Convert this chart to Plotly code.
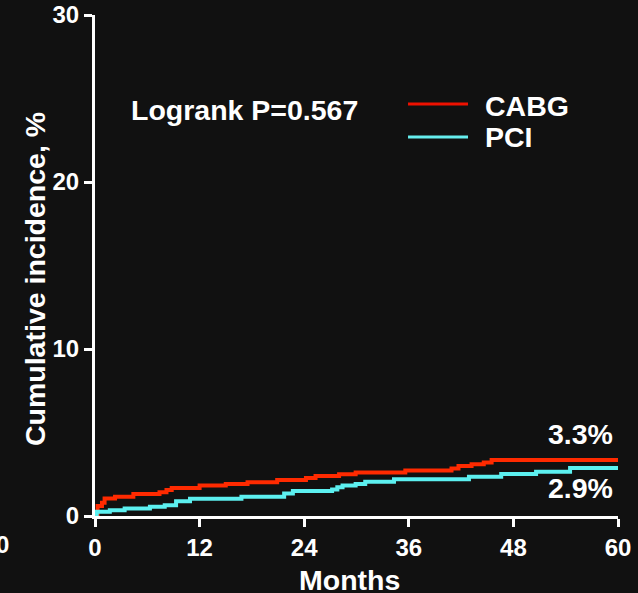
import plotly.graph_objects as go

# Data (months, cumulative incidence %)
cabg_t = [0, 0.3, 0.8, 1.1, 2.3, 4.4, 7.4, 8.2, 8.8, 12, 15, 17.5, 20.9, 24.2, 25.3, 28, 29.9,
          35.6, 40.9, 41.7, 43.2, 44.6, 45.5, 60]
cabg_v = [0, 0.6, 0.8, 1.05, 1.15, 1.32, 1.42, 1.55, 1.68, 1.82, 1.92, 2.02, 2.15, 2.28, 2.4, 2.5, 2.6,
          2.72, 2.85, 3.0, 3.1, 3.2, 3.35, 3.35]
pci_t = [0, 0.2, 1.7, 3.4, 6.3, 8, 9.3, 10.9, 16.8, 21.7, 22.7, 27.2, 27.8, 28.4, 29.9, 31, 34.3,
         42.9, 46.6, 50.6, 54.5, 60]
pci_v = [0, 0.25, 0.35, 0.45, 0.55, 0.65, 0.88, 1.03, 1.15, 1.35, 1.5, 1.58, 1.72, 1.82, 1.92, 2.05, 2.2,
         2.35, 2.52, 2.65, 2.88, 2.88]
x_ticks = [0, 12, 24, 36, 48, 60]
y_ticks = [0, 10, 20, 30]
series_names = ["CABG", "PCI"]
end_labels = ["3.3%", "2.9%"]
pvalue_text = "Logrank P=0.567"
x_title = "Months"
y_title = "Cumulative incidence, %"

BG = "#111111"
RED = "#ff2a00"
CYAN = "#5cf0f0"
FONT = "Liberation Sans, Arial, sans-serif"
BIG = 28.5

fig = go.Figure()
fig.add_trace(go.Scatter(x=cabg_t, y=cabg_v, mode="lines", line=dict(color=RED, width=4, shape="hv"),
                         name=series_names[0], showlegend=False))
fig.add_trace(go.Scatter(x=pci_t, y=pci_v, mode="lines", line=dict(color=CYAN, width=4, shape="hv"),
                         name=series_names[1], showlegend=False))

axis_common = dict(showgrid=False, zeroline=False, showline=True, linecolor="white", linewidth=3,
                   ticks="outside", ticklen=8, tickwidth=3, tickcolor="white", automargin=False,
                   tickfont=dict(family=FONT, size=24, color="white", weight="bold"))

fig.update_layout(
    width=638, height=593,
    margin=dict(l=95, r=20, t=15, b=77),
    paper_bgcolor=BG, plot_bgcolor=BG,
    showlegend=False,
    xaxis=dict(range=[0, 60], tickvals=x_ticks, ticktext=[str(v) for v in x_ticks], **axis_common),
    yaxis=dict(range=[0, 30], tickvals=y_ticks, ticktext=[str(v) for v in y_ticks], **axis_common),
)

tf = dict(family=FONT, size=BIG, color="white", weight="bold")
ann = [
    dict(text=pvalue_text, x=0.2868, y=0.8104, xref="paper", yref="paper", xanchor="center", yanchor="middle",
         showarrow=False, font=tf),
    dict(text=series_names[0], x=0.7419, y=0.8184, xref="paper", yref="paper", xanchor="left", yanchor="middle",
         showarrow=False, font=tf),
    dict(text=series_names[1], x=0.7419, y=0.7565, xref="paper", yref="paper", xanchor="left", yanchor="middle",
         showarrow=False, font=tf),
    dict(text=end_labels[0], x=0.9943, y=(516 - 434) / 501, xref="paper", yref="paper", xanchor="right",
         yanchor="middle", showarrow=False, font=tf),
    dict(text=end_labels[1], x=0.9943, y=(516 - 488) / 501, xref="paper", yref="paper", xanchor="right",
         yanchor="middle", showarrow=False, font=tf),
    dict(text=x_title, x=0.4857, y=-0.1277, xref="paper", yref="paper", xanchor="center", yanchor="middle",
         showarrow=False, font=tf),
    dict(text=y_title, x=-0.1147, y=0.473, xref="paper", yref="paper", xanchor="center", yanchor="middle",
         textangle=-90, showarrow=False, font=tf),
    dict(text="0", x=(11 - 95) / 523, y=(516 - 544) / 501, xref="paper", yref="paper", xanchor="right",
         yanchor="middle", showarrow=False, font=dict(family=FONT, size=24, color="white", weight="bold")),
]
fig.update_layout(annotations=ann)

fig.add_shape(type="line", xref="paper", yref="paper", x0=0.5985, x1=0.7132, y0=0.8224, y1=0.8224,
              line=dict(color="#ee1100", width=3))
fig.add_shape(type="line", xref="paper", yref="paper", x0=0.5985, x1=0.7132, y0=0.7565, y1=0.7565,
              line=dict(color="#66eeee", width=3))

fig.write_html("out.html")
